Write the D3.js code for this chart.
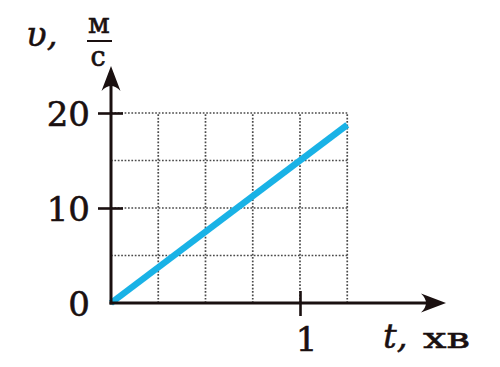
<!DOCTYPE html>
<html>
<head>
<meta charset="utf-8">
<script src="https://cdn.jsdelivr.net/npm/d3@7"></script>
<style>
  html, body { margin: 0; padding: 0; background: #fff; }
  text { font-family: "DejaVu Serif", serif; fill: #1a1010; }
</style>
</head>
<body>
<div id="target"></div>
<script>
// data
const times = [0, 1.25]          // t, хв
const speeds = [0, 18.75]        // v, м/с
const yTicks = [0, 10, 20]
const xTicks = [1]
const xGrid = [0.25, 0.5, 0.75, 1, 1.25]
const yGrid = [5, 10, 15, 20]

const width = 500, height = 367
const ink = "#1a1010"

const svg = d3.select("#target").append("svg")
    .attr("width", width)
    .attr("height", height)

const x = d3.scaleLinear().domain([0, 1]).range([111, 300])
const y = d3.scaleLinear().domain([0, 20]).range([303, 113])

//Grid
const grid = svg.append("g")
    .attr("stroke", "#4a4a4a")
    .attr("stroke-width", 1.7)
    .attr("stroke-dasharray", "1.7,1.7")

grid.selectAll(".gx")
    .data(xGrid)
    .enter()
    .append("line")
    .attr("x1", d => x(d)).attr("x2", d => x(d))
    .attr("y1", y(0)).attr("y2", y(20))

grid.selectAll(".gy")
    .data(yGrid)
    .enter()
    .append("line")
    .attr("x1", x(0)).attr("x2", x(1.25))
    .attr("y1", d => y(d)).attr("y2", d => y(d))

//Line
const line = d3.line()
    .x(d => x(d[0]))
    .y(d => y(d[1]))

svg.append("path")
    .attr("d", line(times.map((t, i) => [t, speeds[i]])))
    .attr("fill", "none")
    .attr("stroke", "#19b2e6")
    .attr("stroke-width", 6.5)
    .attr("stroke-linecap", "butt")

//Axes
const axisW = 3
svg.append("line")
    .attr("x1", x(0)).attr("x2", x(0))
    .attr("y1", y(0) + 1.5).attr("y2", 74)
    .attr("stroke", ink).attr("stroke-width", axisW)

svg.append("line")
    .attr("x1", x(0) - 1.5).attr("x2", 438)
    .attr("y1", y(0)).attr("y2", y(0))
    .attr("stroke", ink).attr("stroke-width", axisW)

// arrow heads (concave back)
const arrow = "M0,0 L-9.5,25 Q0,15 9.5,25 Z"
svg.append("path")
    .attr("d", arrow)
    .attr("transform", "translate(" + x(0) + ",66)")
    .attr("fill", ink)
svg.append("path")
    .attr("d", arrow)
    .attr("transform", "translate(446," + y(0) + ") rotate(90)")
    .attr("fill", ink)

//Y ticks
const yAxis = svg.append("g")
    .attr("transform", "translate(" + x(0) + ",0)")
    .call(d3.axisLeft(y).tickValues(yTicks).tickSize(0).tickPadding(21))
yAxis.select(".domain").remove()
yAxis.selectAll(".tick line")
    .attr("x1", -13).attr("x2", 12)
    .attr("stroke", ink).attr("stroke-width", 2.6)
    .filter(d => d === 0).remove()
yAxis.selectAll(".tick text")
    .attr("font-size", 34)
    .attr("font-family", "DejaVu Serif")
    .attr("fill", ink)
    .attr("stroke", ink).attr("stroke-width", 0.6)
    .attr("dy", "0.36em")

//X ticks
const xAxis = svg.append("g")
    .attr("transform", "translate(0," + y(0) + ")")
    .call(d3.axisBottom(x).tickValues(xTicks).tickFormat(d3.format("d")).tickSize(0).tickPadding(24))
xAxis.select(".domain").remove()
xAxis.selectAll(".tick line")
    .attr("y1", -12).attr("y2", 13)
    .attr("stroke", ink).attr("stroke-width", 2.6)
xAxis.selectAll(".tick text")
    .attr("font-size", 34)
    .attr("font-family", "DejaVu Serif")
    .attr("fill", ink)
    .attr("stroke", ink).attr("stroke-width", 0.6)
    .attr("dx", 6)
    .attr("dy", "0.72em")

//X label
svg.append("text")
    .attr("x", 383)
    .attr("y", 348)
    .attr("font-size", 34)
    .attr("font-style", "italic")
    .attr("stroke", ink).attr("stroke-width", 0.5)
    .text("t,")
svg.append("text")
    .attr("x", 423)
    .attr("y", 348)
    .attr("font-size", 27)
    .attr("textLength", 47)
    .attr("lengthAdjust", "spacingAndGlyphs")
    .attr("stroke", ink).attr("stroke-width", 0.5)
    .text("хв")

//Y label
svg.append("text")
    .attr("x", 26)
    .attr("y", 46)
    .attr("font-size", 34)
    .attr("font-style", "italic")
    .attr("stroke", ink).attr("stroke-width", 0.5)
    .text("υ,")

// unit fraction м / с
svg.append("text")
    .attr("x", 99).attr("y", 32.5)
    .attr("text-anchor", "middle")
    .attr("font-size", 28)
    .attr("stroke", ink).attr("stroke-width", 0.6)
    .text("м")
svg.append("text")
    .attr("x", 98).attr("y", 65.5)
    .attr("text-anchor", "middle")
    .attr("font-size", 27)
    .attr("stroke", ink).attr("stroke-width", 0.6)
    .text("с")
svg.append("line")
    .attr("x1", 87).attr("x2", 112)
    .attr("y1", 41).attr("y2", 41)
    .attr("stroke", ink).attr("stroke-width", 2)
</script>
</body>
</html>
